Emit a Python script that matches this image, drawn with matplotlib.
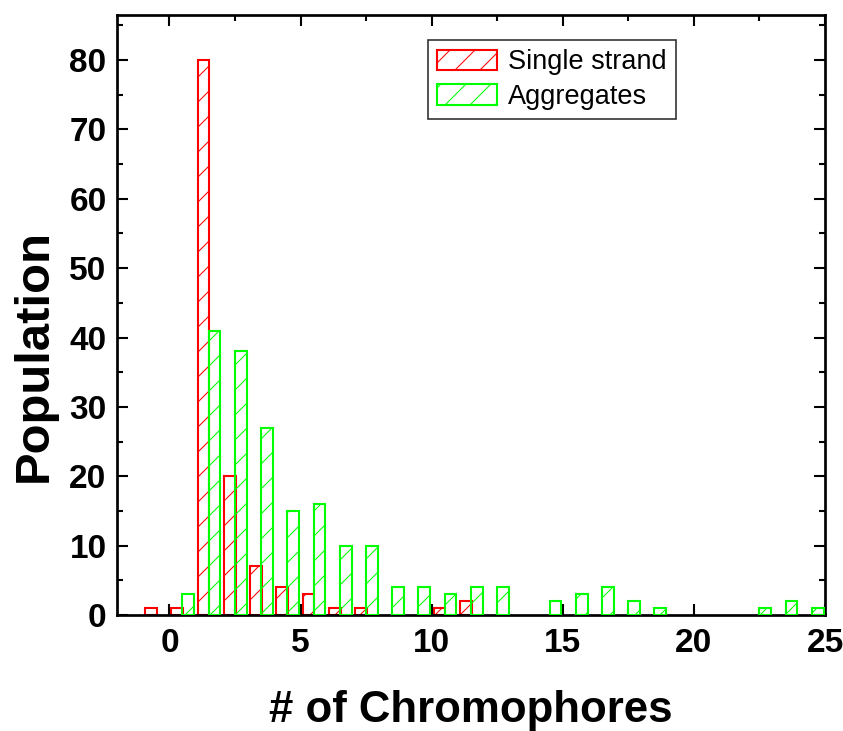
import matplotlib
matplotlib.use("Agg")
import matplotlib.pyplot as plt
import numpy as np

# Data
single_n = [-1, 0, 1, 2, 3, 4, 5, 6, 7, 10, 11]
single_pop = [1, 1, 80, 20, 7, 4, 3, 1, 1, 1, 2]
agg_n = [0, 1, 2, 3, 4, 5, 6, 7, 8, 9, 10, 11, 12, 14, 15, 16, 17, 18, 22, 23, 24]
agg_pop = [3, 41, 38, 27, 15, 16, 10, 10, 4, 4, 3, 4, 4, 2, 3, 4, 2, 1, 1, 2, 1]
xticks = [0, 5, 10, 15, 20, 25]
yticks = [0, 10, 20, 30, 40, 50, 60, 70, 80]

plt.rcParams['font.family'] = ['Liberation Sans', 'DejaVu Sans']
plt.rcParams['hatch.linewidth'] = 0.5

DPI = 150
fig = plt.figure(figsize=(843 / DPI, 731 / DPI), dpi=DPI)
ax = fig.add_axes([117 / 843, 1 - 615 / 731, (825 - 117) / 843, (615 - 15) / 731])

w = 0.45
ax.bar(np.array(single_n) + 0.3, single_pop, width=w, facecolor='white',
       edgecolor='#ff0000', hatch='//', linewidth=1.0, label='Single strand', zorder=2)
ax.bar(np.array(agg_n) + 0.72, agg_pop, width=w, facecolor='none',
       edgecolor='#00ff00', hatch='//', linewidth=1.0, label='Aggregates', zorder=3)

ax.set_xticks(xticks)
ax.set_yticks(yticks)
ax.set_xticks(np.arange(0, 25.1, 2.5), minor=True)
ax.set_yticks(np.arange(0, 86, 5), minor=True)
ax.set_xlim(-2, 25)
ax.set_ylim(0, 86.5)

for s in ax.spines.values():
    s.set_linewidth(1.3)

ax.tick_params(which='both', direction='in', top=True, right=True, width=1.0)
ax.tick_params(which='major', length=5.5)
ax.tick_params(which='minor', length=3)
ax.tick_params(axis='x', which='major', pad=6)
ax.tick_params(axis='y', which='major', pad=5)
for lab in ax.get_xticklabels() + ax.get_yticklabels():
    lab.set_fontsize(16)
    lab.set_fontweight('bold')

ax.set_xlabel('# of Chromophores', fontsize=21, fontweight='bold', labelpad=15)
ax.set_ylabel('Population', fontsize=23.5, fontweight='bold')
ax.yaxis.set_label_coords(-0.085, 0.433)

leg = ax.legend(loc='upper left', bbox_to_anchor=(428 / 843, 1 - 40 / 731),
                bbox_transform=fig.transFigure, fontsize=13, frameon=True,
                fancybox=False, handlelength=2.2, handleheight=0.8,
                borderpad=0.35, labelspacing=0.3, handletextpad=0.4,
                borderaxespad=0)
leg.get_frame().set_edgecolor('black')
leg.get_frame().set_linewidth(0.8)

fig.savefig('out.png', dpi=DPI)
